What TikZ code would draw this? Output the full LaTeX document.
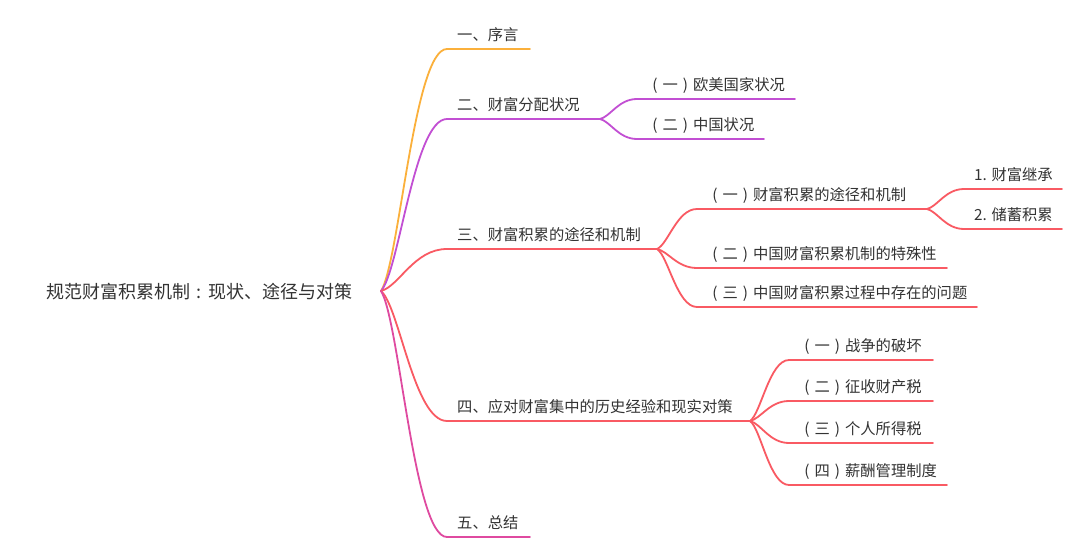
\documentclass[tikz,border=0pt]{standalone}
\usepackage{fontspec}
\setmainfont{Noto Sans CJK SC}
\usetikzlibrary{calc}
\definecolor{cOra}{HTML}{FBB03B}
\definecolor{cPur}{HTML}{C24FD3}
\definecolor{cRed}{HTML}{F95A63}
\definecolor{cPnk}{HTML}{DF4AA0}
\definecolor{txtgray}{HTML}{333333}
\newcommand\mylp{\makebox[1em][c]{(}}
\newcommand\myrp{\makebox[1em][c]{)}}
\newcommand\mycolon{\makebox[1em][c]{:}}
\tikzset{
  lbl/.style={anchor=base west, inner sep=0pt, text=txtgray, font=\fontsize{15.3}{18}\selectfont},
  rootlbl/.style={anchor=base west, inner sep=0pt, text=txtgray, font=\fontsize{18}{22}\selectfont},
  branch/.style={to path={let \p1=(\tikztostart), \p2=(\tikztotarget) in
      .. controls ({\x1+0.28*(\x2-\x1)},{\y1+0.12*(\y2-\y1)}) and ({\x1+0.5*(\x2-\x1)},{\y2}) .. (\tikztotarget)}},
  edge/.style={line width=1.8pt, line cap=round}
}
\begin{document}
\begin{tikzpicture}[x=1pt,y=-1pt]
\fill[white] (0,0) rectangle (1080,560);
\useasboundingbox (0,0) rectangle (1080,560);

% root
\node[rootlbl] (root) at (46,298) {规范财富积累机制\mycolon 现状、途径与对策};
\coordinate (r) at (381,291);

% level 1 coordinates
\coordinate (a1s) at (447,49);  \coordinate (a1e) at (530,49);
\coordinate (a2s) at (447,119); \coordinate (a2e) at (600,119);
\coordinate (a3s) at (447,249); \coordinate (a3e) at (657,249);
\coordinate (a4s) at (447,421); \coordinate (a4e) at (750,421);
\coordinate (a5s) at (447,537); \coordinate (a5e) at (530,537);

\node[lbl] (t1) at (457,40.5) {一、序言};
\node[lbl] (t2) at (457,110.5) {二、财富分配状况};
\node[lbl] (t3) at (457,240.5) {三、财富积累的途径和机制};
\node[lbl] (t4) at (457,412.5) {四、应对财富集中的历史经验和现实对策};
\node[lbl] (t5) at (457,528.5) {五、总结};

\draw[edge,cOra] (r) to[branch] (a1s) -- (a1e);
\draw[edge,cPur] (r) to[branch] (a2s) -- (a2e);
\draw[edge,cRed] (r) to[branch] (a3s) -- (a3e);
\draw[edge,cRed] (r) to[branch] (a4s) -- (a4e);
\draw[edge,cPnk] (r) to[branch] (a5s) -- (a5e);

% children of 2
\coordinate (b21s) at (637,99);  \coordinate (b21e) at (795,99);
\coordinate (b22s) at (637,139); \coordinate (b22e) at (764,139);
\node[lbl] (t21) at (647,90.5) {\mylp 一\myrp 欧美国家状况};
\node[lbl] (t22) at (647,130.5) {\mylp 二\myrp 中国状况};
\draw[edge,cPur] (a2e) to[branch] (b21s) -- (b21e);
\draw[edge,cPur] (a2e) to[branch] (b22s) -- (b22e);

% children of 3
\coordinate (b31s) at (697,209); \coordinate (b31e) at (927,209);
\coordinate (b32s) at (697,268); \coordinate (b32e) at (947,268);
\coordinate (b33s) at (697,307); \coordinate (b33e) at (977,307);
\node[lbl] (t31) at (707,200.5) {\mylp 一\myrp 财富积累的途径和机制};
\node[lbl] (t32) at (707,259.5) {\mylp 二\myrp 中国财富积累机制的特殊性};
\node[lbl] (t33) at (707,298.5) {\mylp 三\myrp 中国财富积累过程中存在的问题};
\draw[edge,cRed] (a3e) to[branch] (b31s) -- (b31e);
\draw[edge,cRed] (a3e) to[branch] (b32s) -- (b32e);
\draw[edge,cRed] (a3e) to[branch] (b33s) -- (b33e);

% children of 3.1
\coordinate (c1s) at (964,189); \coordinate (c1e) at (1062,189);
\coordinate (c2s) at (964,229); \coordinate (c2e) at (1062,229);
\node[lbl] (t311) at (974,180.5) {1. 财富继承};
\node[lbl] (t312) at (974,220.5) {2. 储蓄积累};
\draw[edge,cRed] (b31e) to[branch] (c1s) -- (c1e);
\draw[edge,cRed] (b31e) to[branch] (c2s) -- (c2e);

% children of 4
\coordinate (b41s) at (789,360); \coordinate (b41e) at (933,360);
\coordinate (b42s) at (789,401); \coordinate (b42e) at (933,401);
\coordinate (b43s) at (789,443); \coordinate (b43e) at (933,443);
\coordinate (b44s) at (789,485); \coordinate (b44e) at (947,485);
\node[lbl] (t41) at (799,351.5) {\mylp 一\myrp 战争的破坏};
\node[lbl] (t42) at (799,392.5) {\mylp 二\myrp 征收财产税};
\node[lbl] (t43) at (799,434.5) {\mylp 三\myrp 个人所得税};
\node[lbl] (t44) at (799,476.5) {\mylp 四\myrp 薪酬管理制度};
\draw[edge,cRed] (a4e) to[branch] (b41s) -- (b41e);
\draw[edge,cRed] (a4e) to[branch] (b42s) -- (b42e);
\draw[edge,cRed] (a4e) to[branch] (b43s) -- (b43e);
\draw[edge,cRed] (a4e) to[branch] (b44s) -- (b44e);
\end{tikzpicture}
\end{document}
